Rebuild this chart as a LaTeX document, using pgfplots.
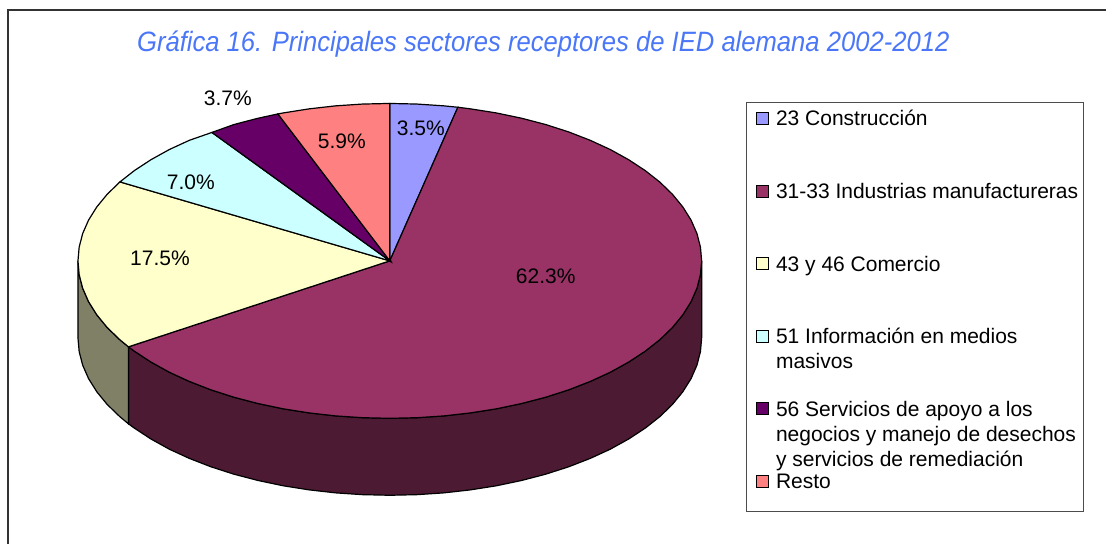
\documentclass[border=0pt]{standalone}
\usepackage{pgfplots}
\pgfplotsset{compat=1.18}
\usepackage{fontspec}
\setmainfont{Liberation Sans}
\definecolor{c1}{HTML}{9999FF}
\definecolor{c2}{HTML}{993366}
\definecolor{c3}{HTML}{FFFFCC}
\definecolor{c4}{HTML}{CCFFFF}
\definecolor{c5}{HTML}{660066}
\definecolor{c6}{HTML}{FF8080}
\definecolor{s2}{HTML}{4D1A33}
\definecolor{s3}{HTML}{808066}
\definecolor{tit}{HTML}{4A76F8}
\begin{document}
\begin{tikzpicture}
\begin{axis}[
  scale only axis, width=1107pt, height=544pt,
  xmin=0, xmax=1107, ymin=0, ymax=544, y dir=reverse,
  hide axis, clip=false,
  every axis plot/.append style={line width=1.2pt, draw=black},
  legend cell align=left,
  legend style={at={(axis cs:753,110)}, anchor=north west, draw=none, fill=none,
    /tikz/row sep=57.2pt, /tikz/column sep=7pt,
    nodes={inner sep=0pt, outer sep=0pt}},
  legend image code/.code={\draw[#1, line width=1.2pt] (0pt,2pt) rectangle (12pt,14pt);},
  /tikz/nodes={font=\fontsize{21}{25}\selectfont},
]
% frame and legend box
\path (axis cs:0,0) rectangle (axis cs:1107,544);
\draw[line width=1.1pt, color=black!80] (axis cs:8,544) -- (axis cs:8,10) -- (axis cs:1107,10);
\draw[line width=1pt, color=black!70] (axis cs:747,103) rectangle (axis cs:1084,512);
% side walls
\addplot[fill=s2, forget plot] coordinates {
(702,261) (700.8,274.7) (697.3,288.3) (691.4,301.8) (683.2,314.9) (672.8,327.6) (660.2,339.8) (645.6,351.3) (629,362.2) (610.6,372.4) (590.6,381.6) (569,390) (546,397.4) (521.9,403.7) (496.7,409) (470.7,413.1) (444.2,416.1) (417.2,417.9) (390,418.5) (362.8,417.9) (335.8,416.1) (309.3,413.1) (283.3,409) (258.1,403.7) (234,397.4) (211,390) (189.4,381.6) (169.4,372.4) (151,362.2) (134.4,351.3) (128.5,347)
(128.5,424) (134.4,428.3) (151,439.2) (169.4,449.4) (189.4,458.6) (211,467) (234,474.4) (258.1,480.7) (283.3,486) (309.3,490.1) (335.8,493.1) (362.8,494.9) (390,495.5) (417.2,494.9) (444.2,493.1) (470.7,490.1) (496.7,486) (521.9,480.7) (546,474.4) (569,467) (590.6,458.6) (610.6,449.4) (629,439.2) (645.6,428.3) (660.2,416.8) (672.8,404.6) (683.2,391.9) (691.4,378.8) (697.3,365.3) (700.8,351.7) (702,338)
} --cycle;
\addplot[fill=s3, forget plot] coordinates {
(128.5,347) (119.8,339.8) (107.2,327.6) (96.8,314.9) (88.6,301.8) (82.7,288.3) (79.2,274.7) (78,261)
(78,338) (79.2,351.7) (82.7,365.3) (88.6,378.8) (96.8,391.9) (107.2,404.6) (119.8,416.8) (128.5,424)
} --cycle;
% top slices: 3.5, 62.3, 17.5, 7.0, 3.7, 5.9 per cent
\addplot[fill=c1] coordinates {
(390,261) (390,103.5) (417.2,104.1) (444.2,105.9) (458.1,107.3)
} --cycle;
\addlegendentry{\smash{\parbox[t]{310pt}{23 Construcción}}}
\addplot[fill=c2] coordinates {
(390,261) (458.1,107.3) (470.7,108.9) (496.7,113) (521.9,118.3) (546,124.6) (569,132) (590.6,140.4) (610.6,149.6) (629,159.8) (645.6,170.7) (660.2,182.2) (672.8,194.4) (683.2,207.1) (691.4,220.2) (697.3,233.7) (700.8,247.3) (702,261) (700.8,274.7) (697.3,288.3) (691.4,301.8) (683.2,314.9) (672.8,327.6) (660.2,339.8) (645.6,351.3) (629,362.2) (610.6,372.4) (590.6,381.6) (569,390) (546,397.4) (521.9,403.7) (496.7,409) (470.7,413.1) (444.2,416.1) (417.2,417.9) (390,418.5) (362.8,417.9) (335.8,416.1) (309.3,413.1) (283.3,409) (258.1,403.7) (234,397.4) (211,390) (189.4,381.6) (169.4,372.4) (151,362.2) (134.4,351.3) (128.5,347)
} --cycle;
\addlegendentry{\smash{\parbox[t]{310pt}{31-33 Industrias manufactureras}}}
\addplot[fill=c3] coordinates {
(390,261) (128.5,347) (119.8,339.8) (107.2,327.6) (96.8,314.9) (88.6,301.8) (82.7,288.3) (79.2,274.7) (78,261) (79.2,247.3) (82.7,233.7) (88.6,220.2) (96.8,207.1) (107.2,194.4) (120,182)
} --cycle;
\addlegendentry{\smash{\parbox[t]{310pt}{43 y 46 Comercio}}}
\addplot[fill=c4] coordinates {
(390,261) (120,182) (134.4,170.7) (151,159.8) (169.4,149.6) (189.4,140.4) (212,132.5)
} --cycle;
\addlegendentry{\smash{\parbox[t]{310pt}{51 Información en medios\\masivos}}}
\addplot[fill=c5] coordinates {
(390,261) (212,132.5) (234,124.6) (258.1,118.3) (278,114)
} --cycle;
\addlegendentry{\smash{\parbox[t]{310pt}{56 Servicios de apoyo a los\\negocios y manejo de desechos\\y servicios de remediación}}}
\addplot[fill=c6] coordinates {
(390,261) (278,114) (283.3,113) (309.3,108.9) (335.8,105.9) (362.8,104.1) (390,103.5)
} --cycle;
\addlegendentry{\smash{\parbox[t]{310pt}{Resto}}}
% data labels
\node at (axis cs:421,128) {3.5\%};
\node at (axis cs:546,276) {62.3\%};
\node at (axis cs:160,258) {17.5\%};
\node at (axis cs:191,182) {7.0\%};
\node at (axis cs:228,98) {3.7\%};
\node at (axis cs:342,141) {5.9\%};
% title
\node[text=tit, font=\fontsize{28}{32}\selectfont\itshape, xscale=0.915] at (axis cs:543.5,44) {Gráfica 16. Principales sectores receptores de IED alemana 2002-2012};
\end{axis}
\end{tikzpicture}
\end{document}
